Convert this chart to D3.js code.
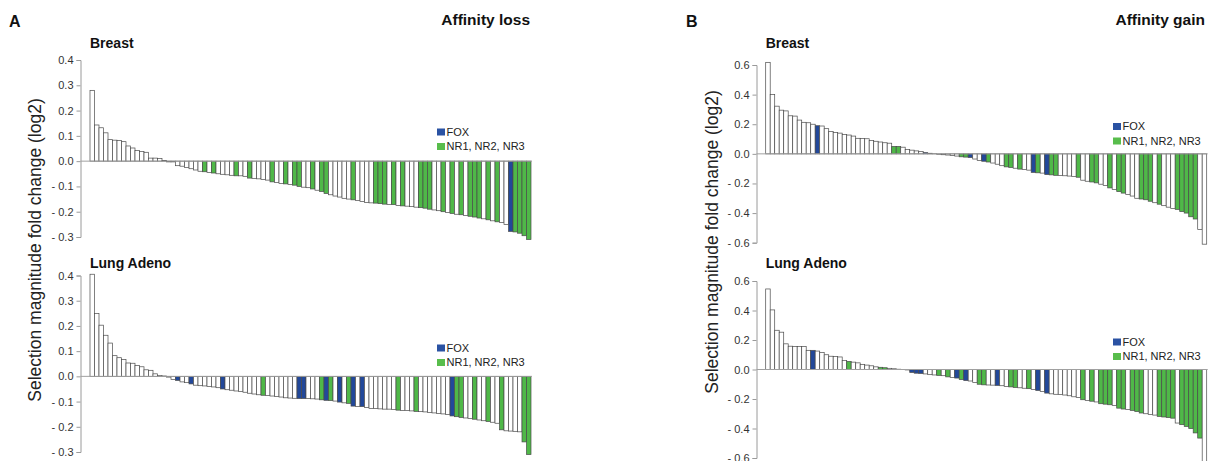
<!DOCTYPE html>
<html><head><meta charset="utf-8">
<script src="https://cdn.jsdelivr.net/npm/d3@7"></script>
<style>
html,body{margin:0;padding:0;background:#fff;}
svg{display:block;font-family:"Liberation Sans",Arial,sans-serif;}
</style></head>
<body>
<svg id="chart" width="1219" height="461"></svg>
<script>
// ---------- DATA ----------
const lossTicks = [0.4, 0.3, 0.2, 0.1, 0.0, -0.1, -0.2, -0.3];
const gainTicks = [0.6, 0.4, 0.2, 0.0, -0.2, -0.4, -0.6];
const legendLabels = ["FOX", "NR1, NR2, NR3"];

const lossBreastValues = [
 0.28, 0.143, 0.132, 0.112, 0.085, 0.083, 0.082, 0.077, 0.06, 0.052,
 0.042, 0.038, 0.035, 0.012, 0.012, 0.01, 0.003, -0.003, -0.003, -0.018,
 -0.02, -0.025, -0.03, -0.035, -0.04, -0.042, -0.045, -0.047, -0.05, -0.052,
 -0.054, -0.056, -0.058, -0.058, -0.06, -0.067, -0.068, -0.07, -0.072, -0.075,
 -0.082, -0.085, -0.088, -0.09, -0.092, -0.095, -0.1, -0.103, -0.105,
 -0.11, -0.115, -0.12, -0.128, -0.133, -0.138, -0.142, -0.147, -0.15, -0.153,
 -0.156, -0.16, -0.163, -0.165, -0.166, -0.168, -0.17, -0.171, -0.172, -0.175,
 -0.177, -0.178, -0.18, -0.182, -0.184, -0.186, -0.19, -0.193, -0.196, -0.2,
 -0.203, -0.207, -0.21, -0.212, -0.215, -0.218, -0.221, -0.225, -0.228, -0.232,
 -0.236, -0.24, -0.243, -0.25, -0.278, -0.28, -0.285, -0.295, -0.31];
const lossBreastFOX = [93];
const lossBreastNR = [25,27,32,35,40,43,45,46,49,51,52,58,63,64,65,67,69,73,74,75,78,80,82,84,85,86,88,90,94,95,96,97];

const lossLungValues = [
 0.405, 0.249, 0.203, 0.163, 0.132, 0.082, 0.074, 0.067, 0.053, 0.052,
 0.043, 0.038, 0.026, 0.024, 0.01, 0.003, 0.0015, -0.003,
 -0.013, -0.016, -0.022, -0.025, -0.03, -0.035, -0.037, -0.038, -0.04, -0.042,
 -0.045, -0.05, -0.053, -0.055, -0.058, -0.06, -0.063, -0.067, -0.07, -0.073,
 -0.075, -0.076, -0.078, -0.08, -0.082, -0.085, -0.086, -0.087, -0.088, -0.088,
 -0.088, -0.089, -0.09, -0.093, -0.095, -0.096, -0.098, -0.102, -0.105, -0.107,
 -0.118, -0.119, -0.12, -0.124, -0.127, -0.128, -0.129, -0.13, -0.13, -0.132,
 -0.134, -0.135, -0.136, -0.137, -0.139, -0.14, -0.141, -0.143, -0.145, -0.147,
 -0.149, -0.151, -0.157, -0.16, -0.163, -0.165, -0.167, -0.17, -0.173, -0.176,
 -0.179, -0.182, -0.186, -0.212, -0.216, -0.217, -0.218, -0.22, -0.26, -0.31];
const lossLungFOX = [19,22,29,46,47,52,55,58,60,80];
const lossLungNR = [38,51,53,57,68,72,81,82,85,88,91,96,97];

const gainBreastValues = [
 0.618, 0.40, 0.322, 0.295, 0.29, 0.257, 0.255, 0.228, 0.213, 0.21,
 0.2, 0.19, 0.188, 0.17, 0.15, 0.145, 0.14, 0.13, 0.127, 0.12,
 0.105, 0.104, 0.102, 0.09, 0.085, 0.08, 0.075, 0.072, 0.05, 0.05,
 0.045, 0.03, 0.025, 0.02, 0.015, 0.008, 0.004, 0.001, -0.003, -0.006,
 -0.008, -0.012, -0.015, -0.02, -0.022, -0.025, -0.035, -0.045, -0.05, -0.055,
 -0.062, -0.07, -0.08, -0.088, -0.092, -0.097, -0.103, -0.106, -0.11, -0.125,
 -0.128, -0.13, -0.14, -0.142, -0.145, -0.147, -0.148, -0.15, -0.152, -0.158,
 -0.178, -0.185, -0.19, -0.196, -0.205, -0.214, -0.23, -0.24, -0.255, -0.265,
 -0.275, -0.285, -0.3, -0.305, -0.31, -0.32, -0.33, -0.34, -0.35, -0.36,
 -0.37, -0.375, -0.39, -0.4, -0.425, -0.44, -0.51, -0.61];
const gainBreastFOX = [11,35,45,48,59,62];
const gainBreastNR = [28,29,43,44,49,53,54,56,60,63,64,69,72,73,76,78,79,83,84,85,87,91,92,93,94,95];

const gainLungValues = [
 0.546, 0.404, 0.266, 0.253, 0.174, 0.158, 0.155, 0.155, 0.155, 0.13,
 0.13, 0.125, 0.115, 0.1, 0.09, 0.088, 0.085, 0.06, 0.055, 0.05,
 0.045, 0.035, 0.03, 0.025, 0.018, 0.015, 0.012, 0.008, 0.005, 0.002,
 0.0, -0.003, -0.02, -0.025, -0.027, -0.03, -0.035, -0.037, -0.04, -0.042,
 -0.05, -0.055, -0.058, -0.068, -0.075, -0.078, -0.088, -0.1, -0.104, -0.105,
 -0.106, -0.108, -0.11, -0.115, -0.118, -0.122, -0.124, -0.127, -0.13, -0.135,
 -0.142, -0.15, -0.16, -0.165, -0.168, -0.17, -0.173, -0.178, -0.185, -0.19,
 -0.205, -0.21, -0.215, -0.22, -0.232, -0.235, -0.239, -0.245, -0.262, -0.268,
 -0.272, -0.277, -0.285, -0.295, -0.3, -0.305, -0.309, -0.318, -0.322, -0.326,
 -0.33, -0.363, -0.374, -0.386, -0.4, -0.43, -0.465, -0.66];
const gainLungFOX = [10,32,33,34,42,44,51,60,62];
const gainLungNR = [18,25,26,38,40,43,47,48,54,55,58,70,72,74,75,76,78,79,81,82,83,87,88,89,90,92,93,94,95,96];

// ---------- STYLE ----------
const COL_FOX = "#22489a", COL_NR = "#4fb848", COL_NONE = "#ffffff";
const LEG_FOX = "#2a52a3", LEG_NR = "#58bd4c";
const svg = d3.select("#chart");

function fmtTick(v){
  if (Math.abs(v) < 1e-9) return "0.0";
  return v < 0 ? "- " + Math.abs(v).toFixed(1) : v.toFixed(1);
}

function panel(opt){
  const g = svg.append("g");
  const n = opt.values.length;
  const x = d3.scaleBand().domain(d3.range(n)).range([opt.x0, opt.x1]).padding(0);
  const y = d3.scaleLinear().domain(opt.domain).range(opt.yRange);
  const fox = new Set(opt.fox), nr = new Set(opt.nr);

  // axis
  const axis = d3.axisLeft(y).tickValues(opt.ticks).tickFormat(fmtTick).tickSize(4).tickPadding(3);
  const ag = g.append("g").attr("transform", `translate(${opt.axisX},0)`).call(axis);
  ag.select(".domain").attr("stroke", "#9a9a9a").attr("stroke-width", 1);
  ag.selectAll(".tick line").attr("stroke", "#9a9a9a");
  ag.selectAll(".tick text").attr("fill", "#333").attr("font-size", 11)
    .attr("font-family", '"Liberation Sans",Arial,sans-serif');

  // bars
  g.append("g").selectAll("rect").data(opt.values).join("rect")
    .attr("x", (d,i) => x(i))
    .attr("width", x.bandwidth())
    .attr("y", d => Math.min(y(d), y(0)))
    .attr("height", d => Math.abs(y(d) - y(0)))
    .attr("fill", (d,i) => fox.has(i) ? COL_FOX : nr.has(i) ? COL_NR : COL_NONE)
    .attr("stroke", "#4a4a4a").attr("stroke-width", 0.7);

  // zero line
  g.append("line").attr("x1", opt.axisX).attr("x2", opt.x1 + 1)
    .attr("y1", y(0)).attr("y2", y(0)).attr("stroke", "#a0a0a0").attr("stroke-width", 1);

  // subtitle
  g.append("text").attr("x", opt.x0).attr("y", opt.subY).text(opt.sub)
    .attr("font-size", 14).attr("font-weight", "bold").attr("fill", "#111");

  // legend
  const lg = g.append("g").attr("transform", `translate(${opt.legX},${opt.legY})`);
  [[LEG_FOX, legendLabels[0]], [LEG_NR, legendLabels[1]]].forEach((it, k) => {
    lg.append("rect").attr("x", 0).attr("y", k*14.5 - 7).attr("width", 8).attr("height", 7).attr("fill", it[0]);
    lg.append("text").attr("x", 9.5).attr("y", k*14.5).text(it[1]).attr("font-size", 11).attr("fill", "#222");
  });
}

// Panel letters & titles
function header(letterX, titleRight, letter, title, labelX, labelY){
  svg.append("text").attr("x", letterX).attr("y", 27).text(letter)
    .attr("font-size", 16).attr("font-weight", "bold").attr("fill", "#111");
  svg.append("text").attr("x", titleRight).attr("y", 25).attr("text-anchor", "end").text(title)
    .attr("font-size", 15.5).attr("font-weight", "bold").attr("fill", "#111");
  svg.append("text").attr("transform", `translate(${labelX},${labelY}) rotate(-90)`)
    .attr("text-anchor", "middle").text("Selection magnitude fold change (log2)")
    .attr("font-size", 17.5).attr("fill", "#222");
}

header(9, 530, "A", "Affinity loss", 41, 250);
header(686, 1205, "B", "Affinity gain", 718, 242);

panel({values: lossBreastValues, fox: lossBreastFOX, nr: lossBreastNR, ticks: lossTicks,
  domain: [-0.3, 0.4], yRange: [237, 60], x0: 90, x1: 531, axisX: 80.5,
  sub: "Breast", subY: 48, legX: 437, legY: 135.5});
panel({values: lossLungValues, fox: lossLungFOX, nr: lossLungNR, ticks: lossTicks,
  domain: [-0.3, 0.4], yRange: [452, 275.5], x0: 90, x1: 531, axisX: 80.5,
  sub: "Lung Adeno", subY: 268, legX: 437, legY: 351.5});
panel({values: gainBreastValues, fox: gainBreastFOX, nr: gainBreastNR, ticks: gainTicks,
  domain: [-0.6, 0.6], yRange: [242.7, 65], x0: 765.7, x1: 1206.7, axisX: 756.5,
  sub: "Breast", subY: 48, legX: 1113, legY: 130});
panel({values: gainLungValues, fox: gainLungFOX, nr: gainLungNR, ticks: gainTicks,
  domain: [-0.6, 0.6], yRange: [458, 281], x0: 765.7, x1: 1206.7, axisX: 756.5,
  sub: "Lung Adeno", subY: 268, legX: 1113, legY: 345.5});
</script>
</body></html>
